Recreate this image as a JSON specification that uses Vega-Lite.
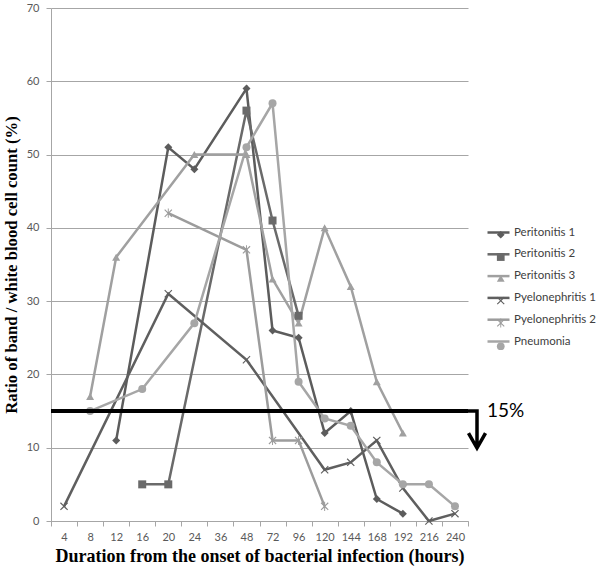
{
  "$schema": "https://vega.github.io/schema/vega-lite/v6.json",
  "autosize": {"type": "none"},
  "padding": {"left": 51, "top": 8, "right": 132, "bottom": 49},
  "width": 417,
  "height": 513,
  "background": "white",
  "config": {
    "view": {"stroke": null},
    "axis": {
      "labelFont": "Lato",
      "labelFontSize": 11,
      "labelColor": "#595959",
      "domainColor": "#a6a6a6",
      "tickColor": "#a6a6a6",
      "gridColor": "#a6a6a6",
      "titleFont": "Liberation Serif",
      "titleFontWeight": "bold",
      "titleColor": "#000000",
      "titleFontSize": 18
    },
    "legend": {
      "labelFont": "Lato",
      "labelFontSize": 11.5,
      "labelColor": "#404040",
      "padding": 0
    }
  },
  "datasets": {
    "rows": [
      {"series": "Peritonitis 1", "hours": 12, "value": 11},
      {"series": "Peritonitis 1", "hours": 20, "value": 51},
      {"series": "Peritonitis 1", "hours": 24, "value": 48},
      {"series": "Peritonitis 1", "hours": 48, "value": 59},
      {"series": "Peritonitis 1", "hours": 72, "value": 26},
      {"series": "Peritonitis 1", "hours": 96, "value": 25},
      {"series": "Peritonitis 1", "hours": 120, "value": 12},
      {"series": "Peritonitis 1", "hours": 144, "value": 15},
      {"series": "Peritonitis 1", "hours": 168, "value": 3},
      {"series": "Peritonitis 1", "hours": 192, "value": 1},
      {"series": "Peritonitis 2", "hours": 16, "value": 5},
      {"series": "Peritonitis 2", "hours": 20, "value": 5},
      {"series": "Peritonitis 2", "hours": 48, "value": 56},
      {"series": "Peritonitis 2", "hours": 72, "value": 41},
      {"series": "Peritonitis 2", "hours": 96, "value": 28},
      {"series": "Peritonitis 3", "hours": 8, "value": 17},
      {"series": "Peritonitis 3", "hours": 12, "value": 36},
      {"series": "Peritonitis 3", "hours": 24, "value": 50},
      {"series": "Peritonitis 3", "hours": 48, "value": 50},
      {"series": "Peritonitis 3", "hours": 72, "value": 33},
      {"series": "Peritonitis 3", "hours": 96, "value": 27},
      {"series": "Peritonitis 3", "hours": 120, "value": 40},
      {"series": "Peritonitis 3", "hours": 144, "value": 32},
      {"series": "Peritonitis 3", "hours": 168, "value": 19},
      {"series": "Peritonitis 3", "hours": 192, "value": 12},
      {"series": "Pyelonephritis 1", "hours": 4, "value": 2},
      {"series": "Pyelonephritis 1", "hours": 20, "value": 31},
      {"series": "Pyelonephritis 1", "hours": 48, "value": 22},
      {"series": "Pyelonephritis 1", "hours": 120, "value": 7},
      {"series": "Pyelonephritis 1", "hours": 144, "value": 8},
      {"series": "Pyelonephritis 1", "hours": 168, "value": 11},
      {"series": "Pyelonephritis 1", "hours": 192, "value": 4.5},
      {"series": "Pyelonephritis 1", "hours": 216, "value": 0},
      {"series": "Pyelonephritis 1", "hours": 240, "value": 1},
      {"series": "Pyelonephritis 2", "hours": 20, "value": 42},
      {"series": "Pyelonephritis 2", "hours": 48, "value": 37},
      {"series": "Pyelonephritis 2", "hours": 72, "value": 11},
      {"series": "Pyelonephritis 2", "hours": 96, "value": 11},
      {"series": "Pyelonephritis 2", "hours": 120, "value": 2},
      {"series": "Pneumonia", "hours": 8, "value": 15},
      {"series": "Pneumonia", "hours": 16, "value": 18},
      {"series": "Pneumonia", "hours": 24, "value": 27},
      {"series": "Pneumonia", "hours": 48, "value": 51},
      {"series": "Pneumonia", "hours": 72, "value": 57},
      {"series": "Pneumonia", "hours": 96, "value": 19},
      {"series": "Pneumonia", "hours": 120, "value": 14},
      {"series": "Pneumonia", "hours": 144, "value": 13},
      {"series": "Pneumonia", "hours": 168, "value": 8},
      {"series": "Pneumonia", "hours": 192, "value": 5},
      {"series": "Pneumonia", "hours": 216, "value": 5},
      {"series": "Pneumonia", "hours": 240, "value": 2}
    ]
  },
  "layer": [
    {
      "data": {"name": "rows"},
      "mark": {"type": "line", "strokeWidth": 2.5},
      "encoding": {
        "x": {
          "field": "hours",
          "type": "ordinal",
          "bandPosition": 0.5,
          "scale": {"type": "band", "domain": [4, 8, 12, 16, 20, 24, 36, 48, 72, 96, 120, 144, 168, 192, 216, 240], "paddingInner": 0, "paddingOuter": 0},
          "axis": {"title": "Duration from the onset of bacterial infection (hours)", "labelAngle": 0, "tickBand": "extent", "tickSize": 5, "labelPadding": 5, "titlePadding": 5, "grid": false}
        },
        "y": {
          "field": "value",
          "type": "quantitative",
          "scale": {"domain": [0, 70], "nice": false},
          "axis": {"title": "Ratio of band / white blood cell count (%)", "titleFontSize": 16.7, "values": [0, 10, 20, 30, 40, 50, 60, 70], "tickSize": 5, "labelPadding": 7, "titlePadding": 6, "grid": true}
        },
        "stroke": {
          "field": "series",
          "type": "nominal",
          "sort": ["Peritonitis 1", "Peritonitis 2", "Peritonitis 3", "Pyelonephritis 1", "Pyelonephritis 2", "Pneumonia"],
          "scale": {"range": ["#5c5c5c", "#6a6a6a", "#a0a0a0", "#5f5f5f", "#9c9c9c", "#a6a6a6"]},
          "legend": {"title": null, "orient": "none", "legendX": 435, "legendY": 212, "symbolType": "stroke", "symbolSize": 484, "symbolStrokeWidth": 2.5, "rowPadding": 3.8, "labelOffset": 3}
        }
      }
    },
    {
      "data": {"name": "rows"},
      "mark": {"type": "point", "filled": true, "opacity": 1, "strokeWidth": 0},
      "encoding": {
        "x": {"field": "hours", "type": "ordinal", "bandPosition": 0.5, "scale": {"type": "band"}},
        "y": {"field": "value", "type": "quantitative"},
        "shape": {
          "field": "series",
          "type": "nominal",
          "scale": {
            "domain": ["Peritonitis 1", "Peritonitis 2", "Peritonitis 3", "Pyelonephritis 1", "Pyelonephritis 2", "Pneumonia"],
            "range": ["diamond", "square", "triangle-up", "M-1,-0.8L-0.2,0L-1,0.8L-0.8,1L0,0.2L0.8,1L1,0.8L0.2,0L1,-0.8L0.8,-1L0,-0.2L-0.8,-1Z", "M-1,-0.8L-0.2,0L-1,0.8L-0.8,1L0,0.2L0.8,1L1,0.8L0.2,0L1,-0.8L0.8,-1L0,-0.2L-0.8,-1ZM-0.12,-1.15L-0.12,1.15L0.12,1.15L0.12,-1.15Z", "circle"]
          },
          "legend": {"title": null, "orient": "none", "legendX": 444, "legendY": 221, "symbolSize": 60, "labelExpr": "''", "labelOpacity": 0, "rowPadding": 7.3}
        },
        "fill": {
          "field": "series",
          "type": "nominal",
          "scale": {
            "domain": ["Peritonitis 1", "Peritonitis 2", "Peritonitis 3", "Pyelonephritis 1", "Pyelonephritis 2", "Pneumonia"],
            "range": ["#5c5c5c", "#6a6a6a", "#a0a0a0", "#5f5f5f", "#9c9c9c", "#a6a6a6"]
          },
          "legend": {"title": null, "orient": "none", "legendX": 444, "legendY": 221, "symbolSize": 60, "labelExpr": "''", "labelOpacity": 0, "rowPadding": 7.3}
        },
        "size": {"value": 64}
      }
    },
    {
      "data": {"values": [{}]},
      "mark": {"type": "rule", "color": "#000000", "strokeWidth": 4},
      "encoding": {"y": {"datum": 15}}
    },
    {
      "data": {"values": [{}]},
      "mark": {"type": "point", "shape": "M-0.55,0L0,0L0,2M-0.46,1.19L0,2L0.46,1.19", "size": 1369, "filled": false, "stroke": "#000000", "strokeWidth": 3.5, "strokeJoin": "miter", "opacity": 1, "xOffset": 9},
      "encoding": {"x": {"datum": 240, "bandPosition": 1, "type": "ordinal", "scale": {"type": "band"}}, "y": {"datum": 15}}
    },
    {
      "data": {"values": [{"label": "15%"}]},
      "mark": {"type": "text", "align": "left", "baseline": "middle", "font": "Lato", "fontSize": 19, "color": "#000000", "xOffset": 19},
      "encoding": {"x": {"datum": 240, "bandPosition": 1, "type": "ordinal", "scale": {"type": "band"}}, "y": {"datum": 15}, "text": {"field": "label"}}
    }
  ]
}
